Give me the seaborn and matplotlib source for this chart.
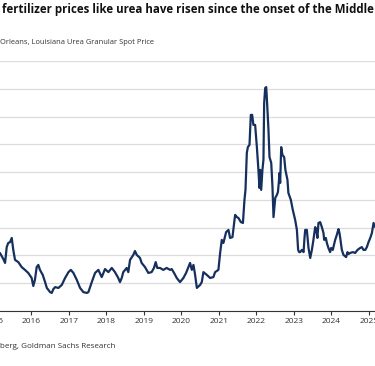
import matplotlib
matplotlib.use("Agg")
import matplotlib.pyplot as plt
import seaborn as sns
import pandas as pd

# ---- data ----
dates = [
    "2015-03-01", "2015-04-03", "2015-04-20", "2015-05-06", "2015-05-21", "2015-06-08", "2015-06-24",
    "2015-07-09", "2015-07-26", "2015-08-27", "2015-09-29", "2015-10-31", "2015-12-02",
    "2016-01-04", "2016-01-20", "2016-02-05", "2016-02-22", "2016-03-09", "2016-03-25", "2016-04-21",
    "2016-05-14", "2016-05-31", "2016-07-02", "2016-07-18", "2016-08-03", "2016-08-20", "2016-09-21",
    "2016-10-24", "2016-11-25", "2016-12-28",
    "2017-01-20", "2017-02-14", "2017-03-19", "2017-04-20", "2017-05-22", "2017-06-25", "2017-07-10",
    "2017-08-12", "2017-09-13", "2017-10-15", "2017-11-17", "2017-12-19",
    "2018-01-21", "2018-02-23", "2018-03-26", "2018-04-27", "2018-05-14", "2018-05-31", "2018-06-15",
    "2018-07-18", "2018-08-03", "2018-08-20", "2018-09-21", "2018-10-07", "2018-10-24", "2018-11-25",
    "2018-12-11",
    "2019-01-13", "2019-02-14", "2019-03-18", "2019-04-10", "2019-04-27", "2019-05-12", "2019-06-08",
    "2019-07-10", "2019-08-12", "2019-09-14", "2019-09-30", "2019-10-23", "2019-11-18", "2019-12-20",
    "2020-01-22", "2020-02-17", "2020-03-11", "2020-03-27", "2020-04-13", "2020-04-29", "2020-05-15",
    "2020-05-25", "2020-06-01", "2020-07-03", "2020-07-19", "2020-08-04", "2020-09-06", "2020-10-08",
    "2020-11-09", "2020-11-26", "2020-12-28",
    "2021-01-14", "2021-01-30", "2021-02-15", "2021-03-13", "2021-04-05", "2021-04-21", "2021-05-14",
    "2021-06-09", "2021-06-26", "2021-07-11", "2021-08-04", "2021-08-24", "2021-09-08", "2021-09-18",
    "2021-10-01", "2021-10-11", "2021-10-27", "2021-11-09", "2021-11-22", "2021-12-04", "2021-12-21",
    "2022-01-07", "2022-01-22", "2022-02-01", "2022-02-08", "2022-02-18", "2022-03-02", "2022-03-12",
    "2022-03-19", "2022-03-29", "2022-04-08", "2022-04-15", "2022-04-30", "2022-05-10", "2022-05-27",
    "2022-06-08", "2022-06-18", "2022-07-05", "2022-07-21", "2022-07-31", "2022-08-09", "2022-08-15",
    "2022-08-22", "2022-09-01", "2022-09-13", "2022-09-30", "2022-10-12", "2022-11-01", "2022-11-10",
    "2022-12-04", "2022-12-23",
    "2023-01-15", "2023-02-01", "2023-02-13", "2023-02-23", "2023-03-05", "2023-03-22", "2023-04-07",
    "2023-04-16", "2023-04-23", "2023-05-09", "2023-05-15", "2023-05-25", "2023-06-11", "2023-06-27",
    "2023-07-12", "2023-07-29", "2023-08-08", "2023-08-20", "2023-08-30", "2023-09-16", "2023-10-02",
    "2023-10-18", "2023-10-25", "2023-11-10", "2023-11-20", "2023-12-05", "2023-12-22",
    "2024-01-01", "2024-01-17", "2024-01-23", "2024-02-09", "2024-02-25", "2024-03-12", "2024-03-22",
    "2024-03-28", "2024-04-14", "2024-04-30", "2024-05-26", "2024-06-08", "2024-06-18", "2024-07-04",
    "2024-07-31", "2024-08-22", "2024-09-14", "2024-10-10", "2024-10-26", "2024-11-11", "2024-11-28",
    "2024-12-14", "2024-12-30",
    "2025-01-16", "2025-02-01", "2025-02-17", "2025-03-05", "2025-03-20",
]
prices = [
    309, 287, 273, 330, 345, 348, 363,
    320, 284, 276, 258, 248, 237,
    219, 190, 212, 258, 266, 248, 230,
    204, 183, 168, 165, 179, 186, 183,
    194, 219, 240,
    248, 237, 212, 183, 168, 165, 168,
    204, 237, 248, 222, 251,
    240, 255, 240, 219, 204, 219, 240,
    255, 240, 284, 302, 316, 302, 291,
    273,
    258, 237, 240, 255, 276, 255, 255,
    248, 255, 248, 251, 237, 219, 204,
    219, 237, 258, 273, 248, 266, 230,
    201, 183, 194, 204, 240, 230, 219,
    222, 240, 248,
    309, 356, 345, 384, 392, 363, 366,
    446, 438, 435, 420, 417, 500, 536,
    669, 690, 698, 806, 806, 770, 770,
    690, 608, 543, 608, 536, 608, 644,
    849, 903, 906, 860, 752, 654, 633,
    546, 438, 507, 518, 528, 564, 597,
    561, 690, 662, 654, 608, 572, 525,
    500, 464,
    428, 392, 320, 312, 312, 320, 312,
    363, 392, 392, 366, 327, 291, 320,
    356, 402, 395, 363, 417, 420, 402,
    381, 356, 363, 345, 327, 312,
    327, 320, 330, 356, 374, 395, 381,
    366, 320, 302, 294, 312, 305, 309,
    312, 309, 320, 327, 330, 320, 320,
    330, 348,
    363, 381, 417, 402, 400,
]
tick_years = [2015, 2016, 2017, 2018, 2019, 2020, 2021, 2022, 2023, 2024, 2025]
y_gridlines = [100, 200, 300, 400, 500, 600, 700, 800, 900, 1000]

title_text = "fertilizer prices like urea have risen since the onset of the Middle"
subtitle_text = "Orleans, Louisiana Urea Granular Spot Price"
source_text = "berg, Goldman Sachs Research"

# ---- style ----
sns.set_theme(style="white")
plt.rcParams["font.family"] = ["Open Sans", "DejaVu Sans"]

W, H = 375, 366
fig = plt.figure(figsize=(W / 100, H / 100), dpi=100)
# axes extends past the left/right edges (the reference is a crop)
ax = fig.add_axes([-9.3 / W, 55 / H, 396.6 / W, 250 / H])

df = pd.DataFrame({"date": pd.to_datetime(dates), "price": prices})
sns.lineplot(data=df, x="date", y="price", ax=ax, color="#16305e", linewidth=1.6)

ax.set_xlim(pd.Timestamp("2014-12-01"), pd.Timestamp("2025-07-01"))
ax.set_ylim(y_gridlines[0], y_gridlines[-1])
ax.set_yticks(y_gridlines)
ax.yaxis.grid(True, color="#dcdcdc", linewidth=0.9)
ax.xaxis.grid(False)
ax.tick_params(axis="y", length=0, labelleft=False)

ax.set_xticks([pd.Timestamp(f"{y}-01-01") for y in tick_years])
ax.set_xticklabels([str(y) for y in tick_years], fontsize=6)
ax.tick_params(axis="x", bottom=True, length=3, width=0.8, color="#333333",
               pad=2, labelcolor="#333333")
for s in ["left", "right", "top"]:
    ax.spines[s].set_visible(False)
ax.spines["bottom"].set_color("#333333")
ax.spines["bottom"].set_linewidth(0.8)
ax.set_xlabel("")
ax.set_ylabel("")

fig.text(2 / W, 1 - 10 / H, title_text, fontsize=8.3, fontweight="bold",
         color="#111111", va="center", ha="left")
fig.text(0, 1 - 42 / H, subtitle_text, fontsize=5.4, color="#333333",
         va="center", ha="left")
fig.text(0, 1 - 346 / H, source_text, fontsize=5.8, color="#333333",
         va="center", ha="left")

fig.savefig("out.png", dpi=100)
